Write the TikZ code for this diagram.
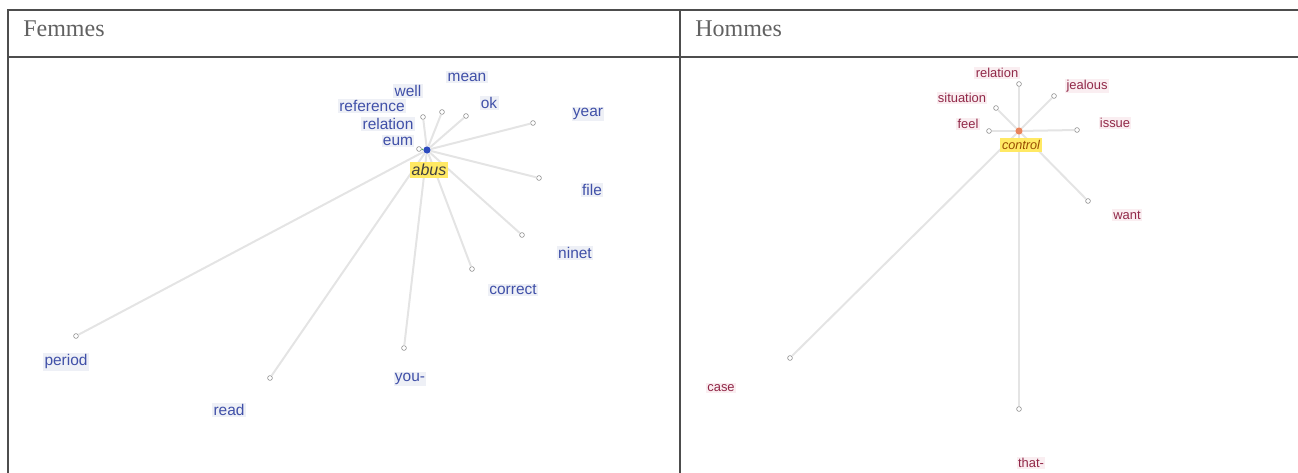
\documentclass[tikz,border=0pt]{standalone}
\usepackage{fontspec}
\setmainfont{Liberation Serif}
\setsansfont{Liberation Sans}
\usepackage{xcolor}
\usepackage{tikz}
\usetikzlibrary{positioning}
\definecolor{rulegray}{RGB}{77,77,77}
\definecolor{fblue}{RGB}{64,80,168}
\definecolor{hred}{RGB}{145,40,72}
\definecolor{fback}{RGB}{238,240,246}
\definecolor{hback}{RGB}{250,238,241}
\definecolor{hubyellow}{RGB}{255,233,100}
\definecolor{linkgray}{RGB}{228,228,228}
\definecolor{fdot}{RGB}{45,75,190}
\definecolor{hdot}{RGB}{232,132,92}
\tikzstyle{cell} = [draw=rulegray, line width=1.5pt]
\tikzstyle{head} = [anchor=base west, text=black!62, inner sep=0pt,
    font=\fontsize{18}{21}\selectfont]
\tikzstyle{leaf} = [circle, draw=gray, fill=white, line width=0.4pt,
    inner sep=0pt, minimum size=3.6pt]
\tikzstyle{fword} = [fill=fback, text=fblue, inner sep=1pt,
    font=\sffamily\fontsize{11.6}{13}\selectfont]
\tikzstyle{hword} = [fill=hback, text=hred, inner sep=1pt,
    font=\sffamily\fontsize{9.7}{11}\selectfont]
\tikzstyle{hub} = [fill=hubyellow, inner sep=1.5pt, font=\sffamily\itshape]
\tikzstyle{link} = [draw=linkgray, line width=1.5pt]

\begin{document}
\begin{tikzpicture}[x=0.75pt, y=-0.75pt]
        \useasboundingbox (0,0) rectangle (1298,473);
        % Table
        \draw [cell] (8,473) -- (8,10) -- (1298,10);
        \draw [cell] (8,57) -- (1298,57);
        \draw [cell] (680,10) -- (680,473);
        \node [head] (femmes) at (23,37) {Femmes};
        \node [head] (hommes) at (695,37) {Hommes};

        % Femmes: points
        \node [circle, fill=fdot, inner sep=0pt, minimum size=5.5pt] (fcentre) at (427,150) {};
        \node [leaf] (pteum) at (419,149) {};
        \node [leaf] (ptrelation) at (423,117) {};
        \node [leaf] (ptmean) at (442,112) {};
        \node [leaf] (ptok) at (466,116) {};
        \node [leaf] (ptyear) at (533,123) {};
        \node [leaf] (ptfile) at (539,178) {};
        \node [leaf] (ptninet) at (522,235) {};
        \node [leaf] (ptcorrect) at (472,269) {};
        \node [leaf] (ptyou) at (404,348) {};
        \node [leaf] (ptread) at (270,378) {};
        \node [leaf] (ptperiod) at (76,336) {};

        % Femmes: connections
        \path [draw=green!40!gray, line width=1pt] (fcentre) -- (pteum);
        \path [link] (fcentre) -- (ptrelation);
        \path [link] (fcentre) -- (ptmean);
        \path [link] (fcentre) -- (ptok);
        \path [link] (fcentre) -- (ptyear);
        \path [link] (fcentre) -- (ptfile);
        \path [link] (fcentre) -- (ptninet);
        \path [link] (fcentre) -- (ptcorrect);
        \path [link] (fcentre) -- (ptyou);
        \path [link] (fcentre) -- (ptread);
        \path [link] (fcentre) -- (ptperiod);

        % Femmes: words
        \node [hub, text=black!75, font=\sffamily\itshape\fontsize{12}{14}\selectfont] (abus) at (429,170) {abus};
        \node [fword] (eum) at (398,141) {eum};
        \node [fword] (relation) at (388,124) {relation};
        \node [fword] (reference) at (372,106) {reference};
        \node [fword] (well) at (408,91) {well};
        \node [fword] (mean) at (467,77) {mean};
        \node [fword] (ok) at (489,103) {ok};
        \node [fword] (year) at (588,114) {year};
        \node [fword] (file) at (592,190) {file};
        \node [fword] (ninet) at (575,253) {ninet};
        \node [fword] (correct) at (513,290) {correct};
        \node [fword] (you) at (410,379) {you-};
        \node [fword] (read) at (229,410) {read};
        \node [fword] (period) at (66,362) {period};

        % Hommes: points
        \node [circle, fill=hdot, inner sep=0pt, minimum size=5.5pt] (hcentre) at (1019,131) {};
        \node [leaf] (qrelation) at (1019,84) {};
        \node [leaf] (qjealous) at (1054,96) {};
        \node [leaf] (qsituation) at (996,108) {};
        \node [leaf] (qfeel) at (989,131) {};
        \node [leaf] (qissue) at (1077,130) {};
        \node [leaf] (qwant) at (1088,201) {};
        \node [leaf] (qcase) at (790,358) {};
        \node [leaf] (qthat) at (1019,409) {};

        % Hommes: connections
        \path [link] (hcentre) -- (qrelation);
        \path [link] (hcentre) -- (qjealous);
        \path [link] (hcentre) -- (qsituation);
        \path [link] (hcentre) -- (qfeel);
        \path [link] (hcentre) -- (qissue);
        \path [link] (hcentre) -- (qwant);
        \path [link] (hcentre) -- (qcase);
        \path [link] (hcentre) -- (qthat);

        % Hommes: words
        \node [hub, text=orange!60!black, font=\sffamily\itshape\fontsize{9.5}{11}\selectfont] (control) at (1021,145) {control};
        \node [hword] (relation2) at (997,73) {relation};
        \node [hword] (jealous) at (1087,86) {jealous};
        \node [hword] (situation) at (962,98) {situation};
        \node [hword] (feel) at (968,124) {feel};
        \node [hword] (issue) at (1115,123) {issue};
        \node [hword] (want) at (1127,215) {want};
        \node [hword] (case) at (721,388) {case};
        \node [hword] (that) at (1031,463) {that-};
    \end{tikzpicture}
\end{document}
